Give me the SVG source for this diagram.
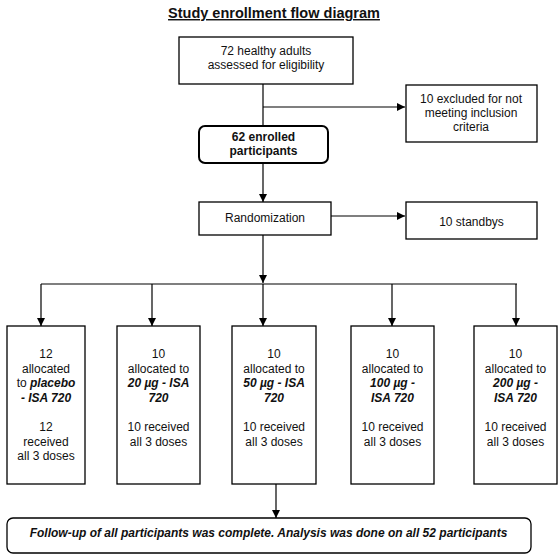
<svg xmlns="http://www.w3.org/2000/svg" width="558" height="557" viewBox="0 0 558 557">
<defs>
<marker id="arr" viewBox="0 0 10 10" refX="10" refY="5" markerWidth="8" markerHeight="8" markerUnits="userSpaceOnUse" orient="auto">
<path d="M0,0 L10,5 L0,10 z" fill="#000"/>
</marker>
<style>
.box{fill:#fff;stroke:#000;stroke-width:1.3}
.thick{fill:#fff;stroke:#000;stroke-width:2}
.ln{fill:none;stroke:#000;stroke-width:1.2}
.arw{fill:none;stroke:#000;stroke-width:1.2;marker-end:url(#arr)}
text{font-family:"Liberation Sans",Arial,sans-serif;font-size:12px;fill:#111;text-anchor:middle}
.b{font-weight:bold}
.bi{font-weight:bold;font-style:italic}
</style>
</defs>
<rect width="558" height="557" fill="#fff"/>
<text x="274" y="18" class="b" style="font-size:14.5px;text-decoration:underline">Study enrollment flow diagram</text>

<g id="connectors">
<path class="ln" d="M263,84 V126"/>
<path class="arw" d="M263,107 H405"/>
<path class="arw" d="M263,163 V202"/>
<path class="arw" d="M331,216 H405"/>
<path class="arw" d="M263,235 V283"/>
<path class="ln" d="M41,284 H517"/>
<path class="arw" d="M41,284 V326"/>
<path class="arw" d="M152,284 V326"/>
<path class="arw" d="M263,284 V326"/>
<path class="arw" d="M392,284 V326"/>
<path class="arw" d="M516,284 V326"/>
<path class="arw" d="M276,484 V518"/>
</g>

<g id="assessed">
<rect class="box" x="179" y="37" width="174" height="47"/>
<text x="266" y="54.5">72 healthy adults</text>
<text x="266" y="69">assessed for eligibility</text>
</g>

<g id="excluded">
<rect class="box" x="406" y="85" width="131" height="57"/>
<text x="471" y="102.5">10 excluded for not</text>
<text x="471" y="116.5">meeting inclusion</text>
<text x="471" y="130.5">criteria</text>
</g>

<g id="enrolled">
<rect class="thick" x="199" y="126" width="129" height="37" rx="6"/>
<text x="263.5" y="141" class="b">62 enrolled</text>
<text x="263.5" y="155" class="b">participants</text>
</g>

<g id="randomization">
<rect class="box" x="199" y="202" width="132" height="33"/>
<text x="265" y="222">Randomization</text>
</g>

<g id="standbys">
<rect class="box" x="406" y="202" width="131" height="37"/>
<text x="471.5" y="226">10 standbys</text>
</g>

<g id="placebo">
<rect class="box" x="7" y="326" width="78" height="158"/>
<text x="46" y="358">12</text>
<text x="46" y="372.5">allocated</text>
<text x="46" y="387">to <tspan class="bi">placebo</tspan></text>
<text x="46" y="401.5" class="bi">- ISA 720</text>
<text x="46" y="431">12</text>
<text x="46" y="445.5">received</text>
<text x="46" y="460">all 3 doses</text>
</g>

<g id="dose20">
<rect class="box" x="117" y="326" width="83" height="158"/>
<text x="158.5" y="358">10</text>
<text x="158.5" y="372.5">allocated to</text>
<text x="158.5" y="387" class="bi">20 µg - ISA</text>
<text x="158.5" y="401.5" class="bi">720</text>
<text x="158.5" y="431">10 received</text>
<text x="158.5" y="445.5">all 3 doses</text>
</g>

<g id="dose50">
<rect class="box" x="232" y="326" width="84" height="158"/>
<text x="274" y="358">10</text>
<text x="274" y="372.5">allocated to</text>
<text x="274" y="387" class="bi">50 µg - ISA</text>
<text x="274" y="401.5" class="bi">720</text>
<text x="274" y="431">10 received</text>
<text x="274" y="445.5">all 3 doses</text>
</g>

<g id="dose100">
<rect class="box" x="351" y="326" width="83" height="158"/>
<text x="392.5" y="358">10</text>
<text x="392.5" y="372.5">allocated to</text>
<text x="392.5" y="387" class="bi">100 µg -</text>
<text x="392.5" y="401.5" class="bi">ISA 720</text>
<text x="392.5" y="431">10 received</text>
<text x="392.5" y="445.5">all 3 doses</text>
</g>

<g id="dose200">
<rect class="box" x="474" y="326" width="83" height="158"/>
<text x="515.5" y="358">10</text>
<text x="515.5" y="372.5">allocated to</text>
<text x="515.5" y="387" class="bi">200 µg -</text>
<text x="515.5" y="401.5" class="bi">ISA 720</text>
<text x="515.5" y="431">10 received</text>
<text x="515.5" y="445.5">all 3 doses</text>
</g>

<g id="followup">
<rect class="box" x="7" y="518" width="524" height="35" rx="6"/>
<text x="268.5" y="536.5" class="bi">Follow-up of all participants was complete. Analysis was done on all 52 participants</text>
</g>
</svg>
